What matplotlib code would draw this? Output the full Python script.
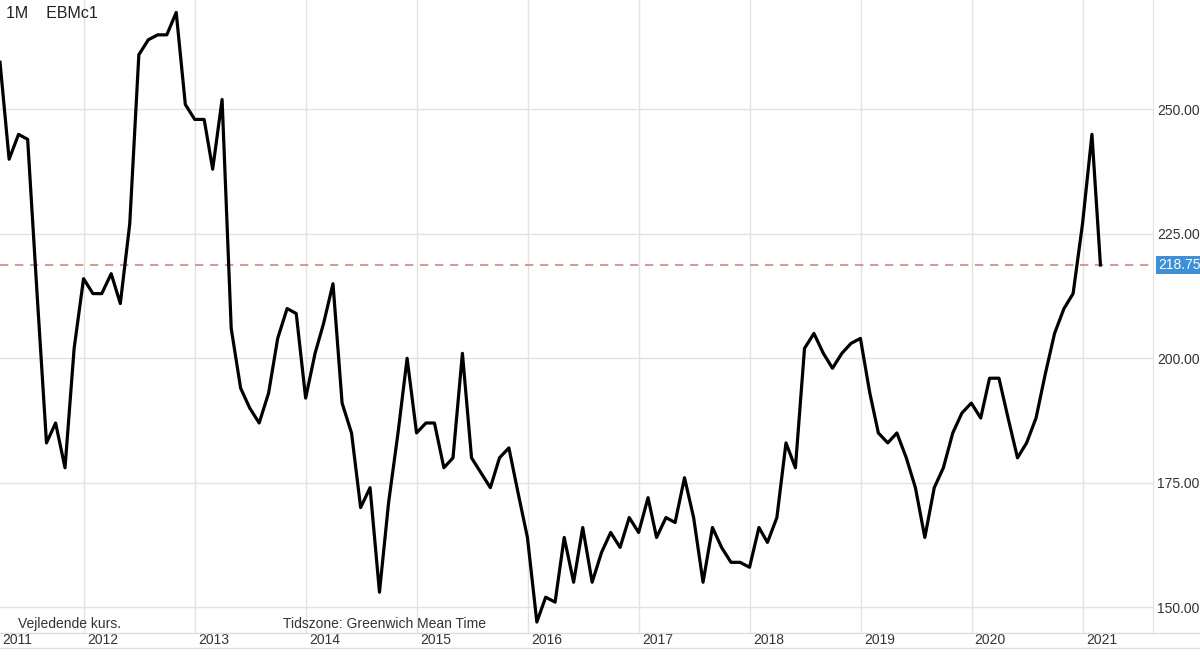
import numpy as np
import pandas as pd
import matplotlib.pyplot as plt
import matplotlib.dates as mdates
import matplotlib.transforms as mtrans

plt.rcParams["font.family"] = ["Liberation Sans", "DejaVu Sans"]

# månedlige kurser, slutter feb 2021
kurs = [259.5, 240, 245, 244, 213, 183, 187, 178, 202, 216, 213, 213, 217, 211, 227,
        261, 264, 265, 265, 269.5, 251, 248, 248, 238, 252, 206, 194, 190, 187, 193,
        204, 210, 209, 192, 201, 207, 215, 191, 185, 170, 174, 153, 171, 185, 200,
        185, 187, 187, 178, 180, 201, 180, 177, 174, 180, 182, 173, 164, 147, 152,
        151, 164, 155, 166, 155, 161, 165, 162, 168, 165, 172, 164, 168, 167, 176,
        168, 155, 166, 162, 159, 159, 158, 166, 163, 168, 183, 178, 202, 205, 201,
        198, 201, 203, 204, 193, 185, 183, 185, 180, 174, 164, 174, 178, 185, 189,
        191, 188, 196, 196, 188, 180, 183, 188, 197, 205, 210, 213, 227, 245, 218.75]
datoer = pd.date_range(end="2021-02-28", periods=len(kurs), freq="ME").to_pydatetime()
sidste = 218.75
år = list(range(2011, 2022))
y_ticks = [150, 175, 200, 225, 250]

fig = plt.figure(figsize=(12, 6.64), dpi=100)
ax = fig.add_axes([0, 31/664, 1153/1200, 633/664])

x = mdates.date2num(datoer)
ax.plot(x, kurs, color="black", lw=2.3, zorder=3)
ax.axhline(sidste, color="#d9827f", ls=(0, (5, 4)), lw=1.2, zorder=2)

år_x = [mdates.datestr2num(f"{a}-01-01") for a in år]
ax.set_xticks(år_x[1:])
ax.set_yticks(y_ticks)
ax.set_xlim(x[0], mdates.datestr2num("2021-08-20"))
ax.set_ylim(144.8, 272.0)
ax.grid(color="#e2e2e2", lw=1)
ax.tick_params(length=0, labelbottom=False)
ax.yaxis.tick_right()
ax.set_yticklabels([f"{v:.2f}" for v in y_ticks], fontsize=10, color="#333333")
ax.tick_params(axis="y", pad=3)
for s in ["top", "left", "bottom"]:
    ax.spines[s].set_visible(False)
ax.spines["right"].set_color("#e2e2e2")

# år-etiketter under aksen
trans = mtrans.blended_transform_factory(ax.transData, fig.transFigure)
for a, xa in zip(år, år_x):
    if a == 2011:
        fig.text(0.002, 24/664, str(a), fontsize=10, va="center", color="#333333")
    else:
        ax.text(xa + 10, 24/664, str(a), transform=trans,
                fontsize=10, va="center", color="#333333", clip_on=False)
fig.add_artist(plt.Line2D([0, 1], [31/664, 31/664], color="#dddddd", lw=1))
fig.add_artist(plt.Line2D([0, 1], [16/664, 16/664], color="#dddddd", lw=1))

ax.text(0.005, 0.99, "1M    EBMc1", transform=ax.transAxes, fontsize=11.5,
        va="top", color="#222222")
fig.text(18/1200, 40/664, "Vejledende kurs.", fontsize=10, va="center", color="#333333")
fig.text(283/1200, 40/664, "Tidszone: Greenwich Mean Time", fontsize=10,
         va="center", color="#333333")

ax.annotate(f"{sidste:.2f}", xy=(1.0, sidste), xycoords=("axes fraction", "data"),
            xytext=(4, 0), textcoords="offset points", fontsize=10, color="white",
            va="center", ha="left",
            bbox=dict(boxstyle="square,pad=0.15", fc="#3d8fd6", ec="none"))

fig.savefig("out.png")
